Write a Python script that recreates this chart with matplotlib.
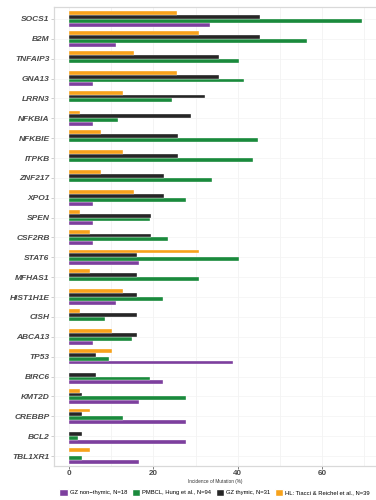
import matplotlib
matplotlib.use('Agg')
import matplotlib.pyplot as plt
import numpy as np
from matplotlib.patches import Patch

plt.rcParams['font.family'] = ['Liberation Sans', 'DejaVu Sans']

genes = ['SOCS1', 'B2M', 'TNFAIP3', 'GNA13', 'LRRN3', 'NFKBIA', 'NFKBIE', 'ITPKB',
         'ZNF217', 'XPO1', 'SPEN', 'CSF2RB', 'STAT6', 'MFHAS1', 'HIST1H1E', 'CISH',
         'ABCA13', 'TP53', 'BIRC6', 'KMT2D', 'CREBBP', 'BCL2', 'TBL1XR1']

# incidence of mutation (%) per cohort, same order as genes
gz_nonthymic = [33.3, 11.1, 0.0, 5.6, 0.0, 5.6, 0.0, 0.0, 0.0, 5.6, 5.6, 5.6,
                16.7, 0.0, 11.1, 0.0, 5.6, 38.9, 22.2, 16.7, 27.8, 27.8, 16.7]
pmbcl = [69.5, 56.4, 40.4, 41.5, 24.5, 11.7, 44.7, 43.6, 34.0, 27.7, 19.1, 23.4,
         40.4, 30.9, 22.3, 8.5, 14.9, 9.6, 19.1, 27.7, 12.8, 2.1, 3.2]
gz_thymic = [45.2, 45.2, 35.5, 35.5, 32.3, 29.0, 25.8, 25.8, 22.6, 22.6, 19.4, 19.4,
             16.1, 16.1, 16.1, 16.1, 16.1, 6.5, 6.5, 3.2, 3.2, 3.2, 0.0]
hl = [25.6, 30.8, 15.4, 25.6, 12.8, 2.6, 7.7, 12.8, 7.7, 15.4, 2.6, 5.1,
      30.8, 5.1, 12.8, 2.6, 10.3, 10.3, 0.0, 2.6, 5.1, 0.0, 5.1]

series = [
    ('GZ non\u2212thymic, N=18', gz_nonthymic, '#7d3f9e'),
    ('PMBCL, Hung et al., N=94', pmbcl, '#1a8a3c'),
    ('GZ thymic, N=31', gz_thymic, '#262626'),
    ('HL: Tiacci & Reichel et al., N=39', hl, '#f7a21b'),
]

fig = plt.figure(figsize=(3.76, 5.0), dpi=100)
ax = fig.add_axes([0.1436, 0.068, 0.8564, 0.918])

n = len(genes)
ypos = np.arange(n)[::-1] + 1.0
bar_h = 0.195
for i, (name, vals, col) in enumerate(series):
    offset = (i - 1.5) * bar_h
    ax.barh(ypos + offset, vals, height=bar_h, color=col,
            edgecolor='white', linewidth=0.25, zorder=3)

ax.set_xlim(-3.55, 72.75)
ax.set_ylim(0.5, n + 0.6)
ax.set_xticks([0, 20, 40, 60])
ax.set_xticks([10, 30, 50, 70], minor=True)
ax.set_yticks(ypos)
ax.set_yticklabels(genes, fontsize=6.0, fontweight='bold', fontstyle='italic',
                   color='#4a4a4a')
ax.tick_params(axis='x', labelsize=5.8, colors='#4a4a4a', length=2, width=0.5, pad=1.2)
ax.tick_params(axis='x', which='minor', length=0)
ax.tick_params(axis='y', length=2, width=0.5, color='#bbbbbb', pad=1.2)
for lab in ax.get_xticklabels():
    lab.set_fontweight('bold')

ax.grid(True, which='both', axis='x', color='#f0f0f0', linewidth=0.5, zorder=0)
ax.grid(True, axis='y', color='#f3f3f3', linewidth=0.5, zorder=0)
for side in ['left', 'bottom', 'top']:
    ax.spines[side].set_color('#d9d9d9')
    ax.spines[side].set_linewidth(0.9)
ax.spines['right'].set_visible(False)

ax.set_xlabel('Incidence of Mutation (%)', fontsize=3.4, color='#333333', labelpad=1.0)

handles = [Patch(facecolor=c, edgecolor='white', label=nm) for nm, _, c in series]
fig.legend(handles=handles, loc='center left', bbox_to_anchor=(0.158, 0.015), ncol=4,
           frameon=False, fontsize=4.2, handlelength=1.4, handleheight=1.4,
           handletextpad=0.45, columnspacing=0.7, borderaxespad=0, borderpad=0)

fig.savefig('out.png', dpi=100)
